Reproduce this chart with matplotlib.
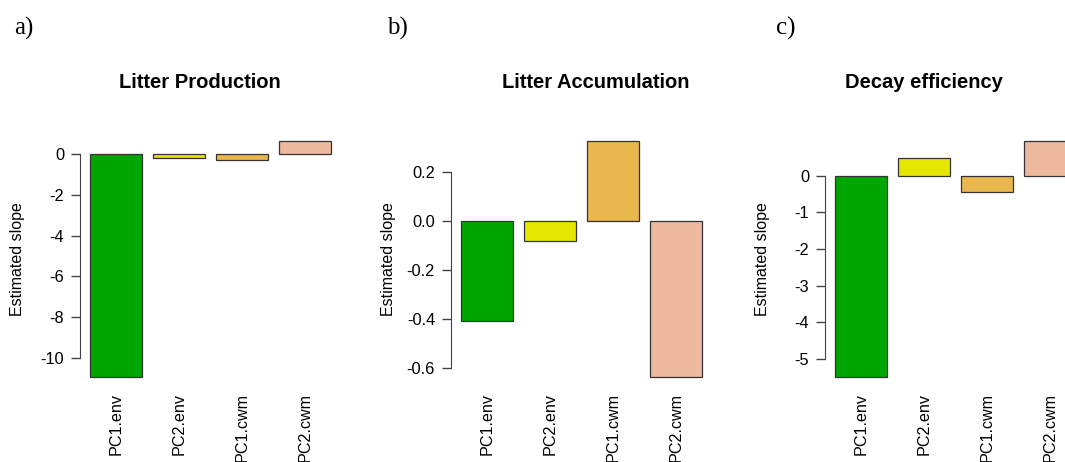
import matplotlib.pyplot as plt
import numpy as np

plt.rcParams['font.family'] = ['Liberation Sans', 'DejaVu Sans']

# bar names shared by the three panels
names = ['PC1.env', 'PC2.env', 'PC1.cwm', 'PC2.cwm']
cols = ['#00A600', '#E6E600', '#EAB64E', '#EEB99F']  # terrain.colors(5)[1:4]

# estimated slopes
litter_prod = [-10.9, -0.22, -0.32, 0.63]
litter_acc = [-0.408, -0.082, 0.327, -0.636]
decay_eff = [-5.48, 0.49, -0.45, 0.95]

titles = ['Litter Production', 'Litter Accumulation', 'Decay efficiency']
letters = ['a)', 'b)', 'c)']
yticks = [[0, -2, -4, -6, -8, -10],
          [0.2, 0.0, -0.2, -0.4, -0.6],
          [0, -1, -2, -3, -4, -5]]
yfmt = ['{:g}', '{:.1f}', '{:g}']

W, H = 1065, 462
fig = plt.figure(figsize=(W / 100, H / 100), dpi=100)
fig.patch.set_facecolor('white')

spine_x = [80, 451, 825]      # pixel position of each y axis
title_x = [200, 596, 924]
letter_x = [14, 387, 776]
ax_top, ax_bot = 131.5, 386.0
ax_w = 261

series = [litter_prod, litter_acc, decay_eff]
# R barplot geometry: width 1, space 0.2
lefts = 0.2 + 1.2 * np.arange(len(names))
centers = lefts + 0.5
xlo, xhi = lefts[0], lefts[-1] + 1
xpad = 0.04 * (xhi - xlo)

for i, vals in enumerate(series):
    ax = fig.add_axes([spine_x[i] / W, 1 - ax_bot / H, ax_w / W, (ax_bot - ax_top) / H])
    ax.bar(centers, vals, width=1, color=cols, edgecolor='#333333', linewidth=0.9)
    lo, hi = min(min(vals), 0), max(max(vals), 0)
    ypad = 0.04 * (hi - lo)
    ax.set_ylim(lo - ypad, hi + ypad)
    ax.set_xlim(xlo - xpad, xhi + xpad)
    ax.set_xticks(centers)
    ax.set_xticklabels(names, rotation=90, fontsize=11.6)
    ax.tick_params(axis='x', length=0, pad=5)
    ax.set_yticks(yticks[i])
    ax.set_yticklabels([yfmt[i].format(t) for t in yticks[i]], fontsize=11.8)
    ax.tick_params(axis='y', length=6.5, width=1, pad=5, color='#444444')
    for s in ['top', 'right', 'bottom']:
        ax.spines[s].set_visible(False)
    ax.spines['left'].set_bounds(min(yticks[i]), max(yticks[i]))
    ax.spines['left'].set_color('#444444')
    ax.set_ylabel('Estimated slope', fontsize=11.5)
    ax.yaxis.set_label_coords(-55 / ax_w, 0.5)
    fig.text(title_x[i] / W, 1 - 83 / H, titles[i], ha='center', va='center',
             fontsize=14.5, fontweight='bold')
    fig.text(letter_x[i] / W, 1 - 28 / H, letters[i], ha='left', va='center',
             fontsize=18, family='Liberation Serif')

plt.savefig('out.png', dpi=100)
